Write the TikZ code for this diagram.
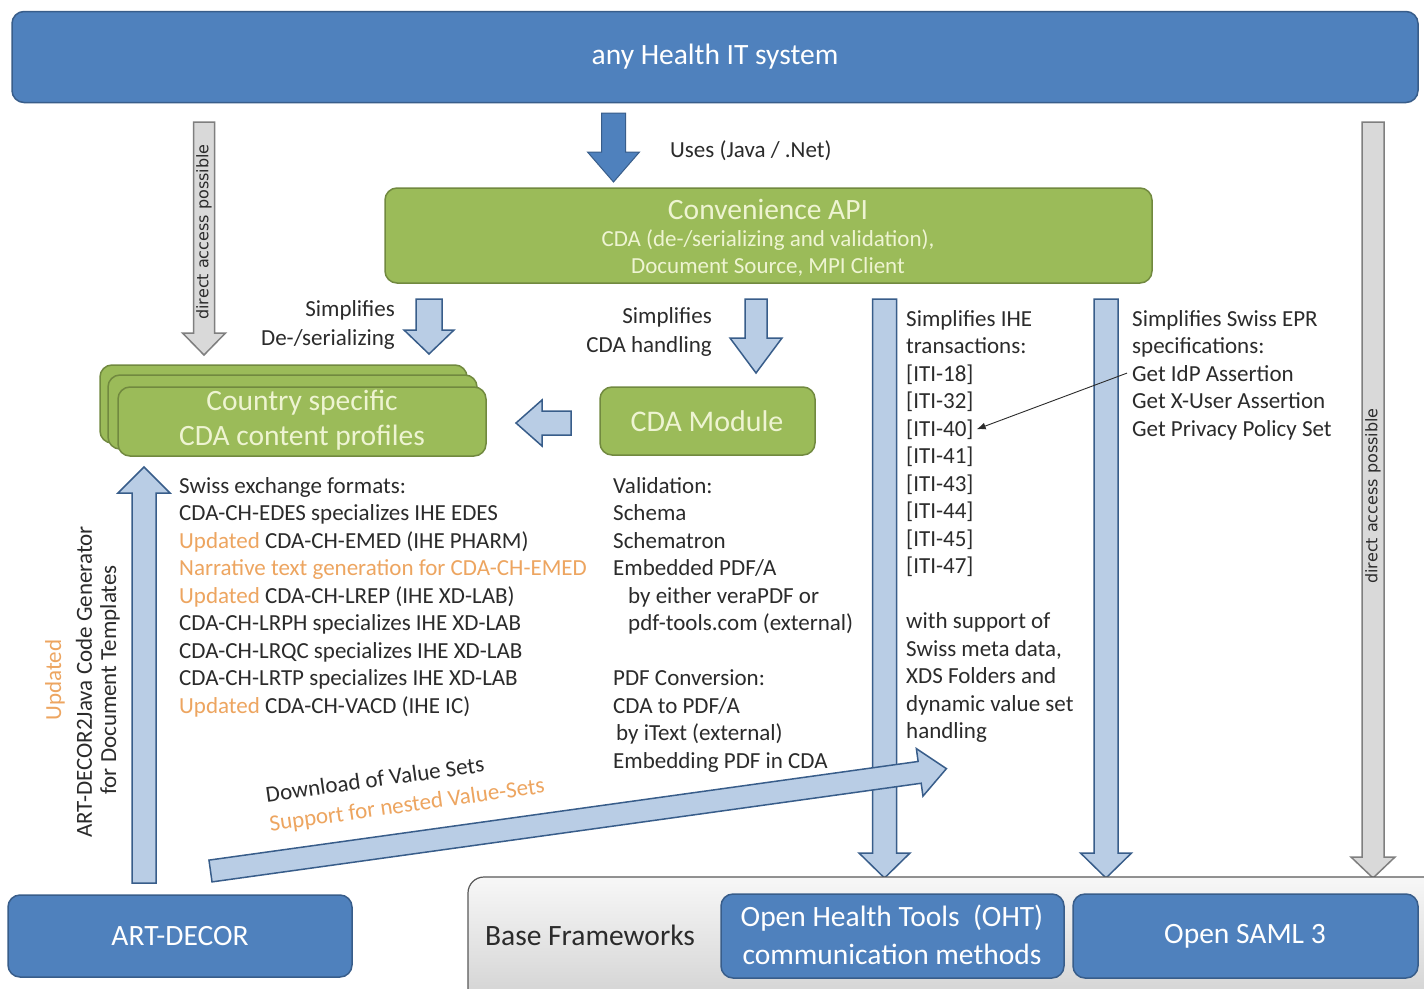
\documentclass[tikz,border=0pt]{standalone}
\usepackage{fontspec}
\setmainfont{Carlito}
\newfontfamily\dvs{DejaVu Sans}
\usetikzlibrary{arrows.meta}
\definecolor{bluef}{HTML}{4F81BD}
\definecolor{blued}{HTML}{385D8A}
\definecolor{greenf}{HTML}{9BBB59}
\definecolor{greend}{HTML}{71893F}
\definecolor{lightf}{HTML}{B9CDE5}
\definecolor{grayf}{HTML}{D9D9D9}
\definecolor{grayd}{HTML}{7F7F7F}
\definecolor{orng}{HTML}{EDA560}
\definecolor{txt}{HTML}{2B2B2B}
\definecolor{pale}{HTML}{EEF4D2}
\newcommand{\varrow}[7]{% style, xc, y tail, y tip, shaft w, head w, head base y
  \draw[#1] ({#2-#5/2},#3) -- ({#2+#5/2},#3) -- ({#2+#5/2},#7) -- ({#2+#6/2},#7) -- (#2,#4) -- ({#2-#6/2},#7) -- ({#2-#5/2},#7) -- cycle;}
\tikzset{
  bluebox/.style={draw=blued, fill=bluef, line width=1.5pt, rounded corners=12pt, inner sep=0pt},
  greenbox/.style={draw=greend, fill=greenf, line width=1.5pt, rounded corners=12pt, inner sep=0pt},
  boxtext/.style={inner sep=0pt, text=white, font=\fontsize{29.5}{34}\selectfont},
  paletext/.style={inner sep=0pt, text=pale, font=\fontsize{29.5}{34}\selectfont},
  lbl/.style={inner sep=0pt, text=txt, font=\fontsize{23}{27}\selectfont, anchor=base west},
  lblr/.style={lbl, anchor=base east},
  vlbl/.style={inner sep=0pt, text=txt, font=\fontsize{23}{27}\selectfont, rotate=90},
  dalbl/.style={inner sep=0pt, text=txt, font=\dvs\fontsize{16}{18}\selectfont, rotate=90},
  larrow/.style={draw=blued, fill=lightf, line width=1.5pt, line join=miter},
  barrow/.style={draw=blued, fill=bluef, line width=1pt, line join=miter},
  garrow/.style={draw=grayd, fill=grayf, line width=1.5pt, line join=miter},
}
\begin{document}
\begin{tikzpicture}[x=1pt,y=-1pt]
\useasboundingbox (0,0) rectangle (1424,988);
\fill[white] (0,0) rectangle (1424,988);

% top system
\node[bluebox, minimum width=1406pt, minimum height=91pt] (his) at (715,57) {};
\node[boxtext] (histxt) at (715,57) {any Health IT system};

% Uses arrow
\varrow{barrow}{613.5}{113}{182}{24}{52}{152}
\node[lbl] (uses) at (670,157) {Uses (Java / .Net)};

% Convenience API
\node[greenbox, minimum width=767pt, minimum height=95pt] (api) at (768.5,235.5) {};
\node[paletext] (api1) at (768,209) {Convenience API};
\node[paletext, font=\fontsize{23}{27}\selectfont] (api2) at (768,240) {CDA (de-/serializing and validation),};
\node[paletext, font=\fontsize{23}{27}\selectfont] (api3) at (768,267) {Document Source, MPI Client};

% gray direct access arrows
\varrow{garrow}{204}{122}{355}{21}{43}{333}
\node[dalbl] (da1) at (204,232) {direct access possible};
\varrow{garrow}{1373}{122}{878}{22}{44}{857}
\node[dalbl] (da2) at (1373,496) {direct access possible};

% simplifies arrows
\varrow{larrow}{429}{299}{354}{26}{50}{330}
\node[lblr] (s1a) at (395,316) {Simplifies};
\node[lblr] (s1b) at (395,345) {De-/serializing};
\varrow{larrow}{756}{299}{373}{22}{52}{338}
\node[lblr] (s2a) at (712,323) {Simplifies};
\node[lblr] (s2b) at (712,352) {CDA handling};

% long arrows down to base frameworks
\varrow{larrow}{884.5}{299}{878}{24}{51}{853}
\varrow{larrow}{1106}{299}{878}{24}{51}{853}

% country specific profiles
\draw[greenbox] (100,365) rectangle (467,443);
\draw[greenbox] (108,375) rectangle (477,449);
\node[greenbox, minimum width=368pt, minimum height=69pt] (csp) at (302,421.5) {};
\node[paletext] (cs1) at (302,403) {Country specific};
\node[paletext] (cs2) at (302,438) {CDA content profiles};

% CDA module
\node[greenbox, minimum width=215pt, minimum height=68pt] (cdam) at (707.5,421) {};
\node[paletext, font=\fontsize{30}{34}\selectfont] (cdamt) at (707,421) {CDA Module};

% left arrow CDA module -> profiles
\draw[larrow] (571,411) -- (542,411) -- (542,400) -- (516,423) -- (542,446) -- (542,435) -- (571,435) -- cycle;

% Swiss exchange formats
\foreach \t [count=\i from 0] in {{Swiss exchange formats:},
  {CDA-CH-EDES specializes IHE EDES},
  {\textcolor{orng}{Updated} CDA-CH-EMED (IHE PHARM)},
  {\textcolor{orng}{Narrative text generation for CDA-CH-EMED}},
  {\textcolor{orng}{Updated} CDA-CH-LREP (IHE XD-LAB)},
  {CDA-CH-LRPH specializes IHE XD-LAB},
  {CDA-CH-LRQC specializes IHE XD-LAB},
  {CDA-CH-LRTP specializes IHE XD-LAB},
  {\textcolor{orng}{Updated} CDA-CH-VACD (IHE IC)}}
  \node[lbl] (sw\i) at (179,{493+27.5*\i}) {\t};

% Validation column
\node[lbl] (v0) at (613,493) {Validation:};
\node[lbl] (v1) at (613,520.5) {Schema};
\node[lbl] (v2) at (613,548) {Schematron};
\node[lbl] (v3) at (613,575.5) {Embedded PDF/A};
\node[lbl] (v4) at (628,603) {by either veraPDF or};
\node[lbl] (v5) at (628,630.5) {pdf-tools.com (external)};
\node[lbl] (v7) at (613,685.5) {PDF Conversion:};
\node[lbl] (v8) at (613,713) {CDA to PDF/A};
\node[lbl] (v9) at (616,740.5) {by iText (external)};
\node[lbl] (v10) at (613,768) {Embedding PDF in CDA};

% IHE column
\foreach \t [count=\i from 0] in {{Simplifies IHE}, {transactions:}, {[ITI-18]}, {[ITI-32]}, {[ITI-40]}, {[ITI-41]}, {[ITI-43]}, {[ITI-44]}, {[ITI-45]}, {[ITI-47]}}
  \node[lbl] (iti\i) at (906,{326+27.5*\i}) {\t};
\foreach \t [count=\i from 0] in {{with support of}, {Swiss meta data,}, {XDS Folders and}, {dynamic value set}, {handling}}
  \node[lbl] (ws\i) at (906,{628.5+27.5*\i}) {\t};

% EPR column
\foreach \t [count=\i from 0] in {{Simplifies Swiss EPR}, {specifications:}, {Get IdP Assertion}, {Get X-User Assertion}, {Get Privacy Policy Set}}
  \node[lbl] (epr\i) at (1132,{326+27.5*\i}) {\t};
\draw[txt, line width=0.9pt, -{Latex[length=9pt,width=7pt]}] ([xshift=-5pt]epr2.west) -- ([xshift=3pt]iti4.east);

% up arrow ART-DECOR -> profiles
\varrow{larrow}{144}{883}{467}{24}{52}{493}
\node[vlbl, text=orng] (upd) at (55,680) {Updated};
\node[vlbl] (gen1) at (84,682) {ART-DECOR2Java Code Generator};
\node[vlbl] (gen2) at (110,680) {for Document Templates};

% diagonal arrow
\begin{scope}[shift={(210.5,871)}, rotate=7.92]
  \draw[larrow] (0,-11) -- (716,-11) -- (716,-24) -- (743,0) -- (716,24) -- (716,11) -- (0,11) -- cycle;
\end{scope}
\node[inner sep=0pt, text=txt, font=\fontsize{23}{27}\selectfont, rotate=8, anchor=base] (dl1) at (376,787) {Download of Value Sets};
\node[inner sep=0pt, text=orng, font=\fontsize{23}{27}\selectfont, rotate=8, anchor=base] (dl2) at (408,812) {Support for nested Value-Sets};

% bottom
\node[bluebox, minimum width=344pt, minimum height=82pt] (art) at (180,936) {};
\node[boxtext] (artt) at (180,936) {ART-DECOR};
\begin{scope}
  \clip (0,0) rectangle (1424,988);
  \shade[draw=gray!70!black, line width=1.2pt, rounded corners=16pt, top color=gray!6, bottom color=gray!38] (468,877) rectangle (1450,1015);
\end{scope}
\node[inner sep=0pt, text=txt, font=\fontsize{29.5}{34}\selectfont] (bf) at (590,935) {Base Frameworks};
\node[bluebox, minimum width=343pt, minimum height=84pt] (oht) at (892.5,936) {};
\node[boxtext] (oht1) at (892,918) {Open Health Tools\ \ (OHT)};
\node[boxtext] (oht2) at (892,954) {communication methods};
\node[bluebox, minimum width=345pt, minimum height=84pt] (saml) at (1245.5,936) {};
\node[boxtext] (samlt) at (1245,936) {Open SAML 3};
\end{tikzpicture}
\end{document}
